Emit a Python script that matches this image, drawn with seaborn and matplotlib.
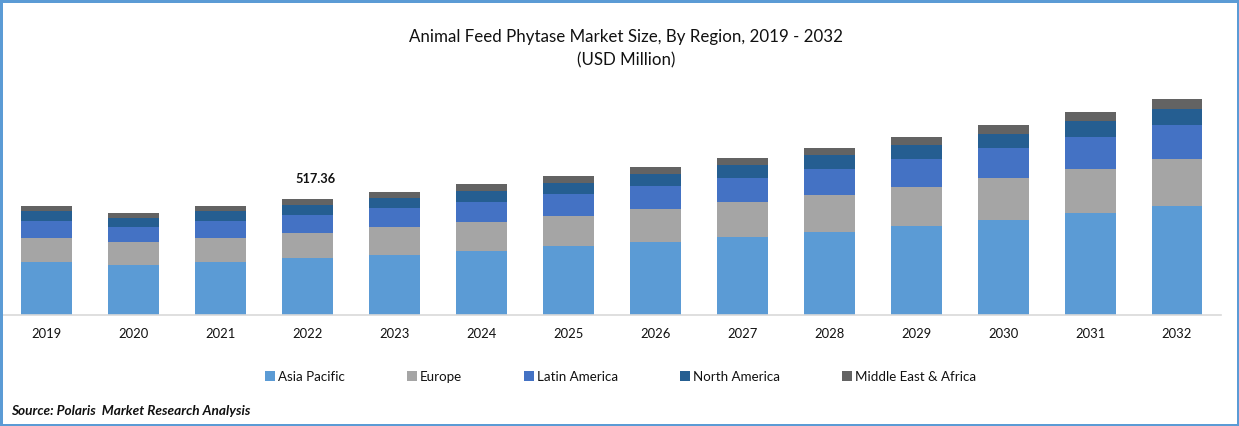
# Animal feed phytase market, stacked bars by region
import matplotlib
matplotlib.use('Agg')
import matplotlib.pyplot as plt
from matplotlib.patches import Rectangle
import numpy as np
import seaborn as sns

years = ['2019', '2020', '2021', '2022', '2023', '2024', '2025',
         '2026', '2027', '2028', '2029', '2030', '2031', '2032']

asia_pacific = [236, 223, 236, 254, 268, 285, 308, 326, 348, 370, 397, 424, 455, 486]
europe = [107, 103, 107, 112, 125, 129, 134, 147, 156, 165, 174, 187, 196, 210]
latin_america = [76, 67, 76, 80, 85, 89, 98, 103, 107, 116, 125, 134, 143, 152]
north_america = [45, 40, 45, 45, 45, 49, 49, 54, 58, 62, 62, 62, 71, 71]
middle_east_africa = [22, 22, 22, 26.36, 27, 31, 31, 31, 31, 31, 36, 40, 40, 45]

regions = ['Asia Pacific', 'Europe', 'Latin America', 'North America', 'Middle East & Africa']
colors = ['#5B9BD5', '#A5A5A5', '#4472C4', '#255E91', '#636363']

sns.set_theme(style='white')
plt.rcParams['font.family'] = ['Lato', 'DejaVu Sans']

W, H = 1239, 426
fig = plt.figure(figsize=(W / 100, H / 100), dpi=100)
ax = fig.add_axes([3 / W, (H - 315) / H, 1217.5 / W, 230 / H])

# stack the regions one on top of the other
bottom = np.zeros(len(years))
series = [asia_pacific, europe, latin_america, north_america, middle_east_africa]
for name, values, color in zip(regions, series, colors):
    sns.barplot(x=years, y=values, bottom=bottom, color=color, width=0.586,
                saturation=1, label=name, ax=ax, legend=False, linewidth=0)
    bottom = bottom + np.array(values)

ax.set_xlim(-0.5, 13.5)
ax.set_ylim(0, 1025.8)
ax.set_yticks([])
ax.set_xlabel('')
ax.set_ylabel('')
sns.despine(ax=ax, left=True)
ax.spines['bottom'].set_color('#D9D9D9')
ax.spines['bottom'].set_linewidth(1.2)
ax.tick_params(axis='x', length=0, pad=9.5, labelsize=9.4, labelcolor='#111111')

ax.annotate('517.36', xy=(3, bottom[3]), xytext=(6, 10), textcoords='offset points',
            ha='center', va='bottom', fontsize=9.2, fontweight='bold', color='#111111')

fig.text(626.5 / W, 1 - 37 / H, 'Animal Feed Phytase Market Size, By Region, 2019 - 2032',
         ha='center', va='center', fontsize=12.15, color='#111111')
fig.text(626.5 / W, 1 - 60 / H, '(USD Million)', ha='center', va='center',
         fontsize=12.15, color='#111111')

handles, labels = ax.get_legend_handles_labels()
fig.legend(handles, labels, ncol=5, loc='center', bbox_to_anchor=(620.5 / W, 1 - 377 / H),
           frameon=False, fontsize=9.6, handlelength=0.8, handleheight=0.8,
           handletextpad=0.2, columnspacing=4.625, labelcolor='#111111')

fig.text(11 / W, 1 - 411 / H, 'Source: Polaris  Market Research Analysis', ha='left', va='center',
         fontsize=9.85, fontweight='bold', fontstyle='italic', color='#111111')

# blue frame around the picture
fig.add_artist(Rectangle((0, 0), 1, 1, transform=fig.transFigure, fill=False,
                         edgecolor='#5B9BD5', linewidth=3.6))

fig.savefig('out.png', dpi=100)
